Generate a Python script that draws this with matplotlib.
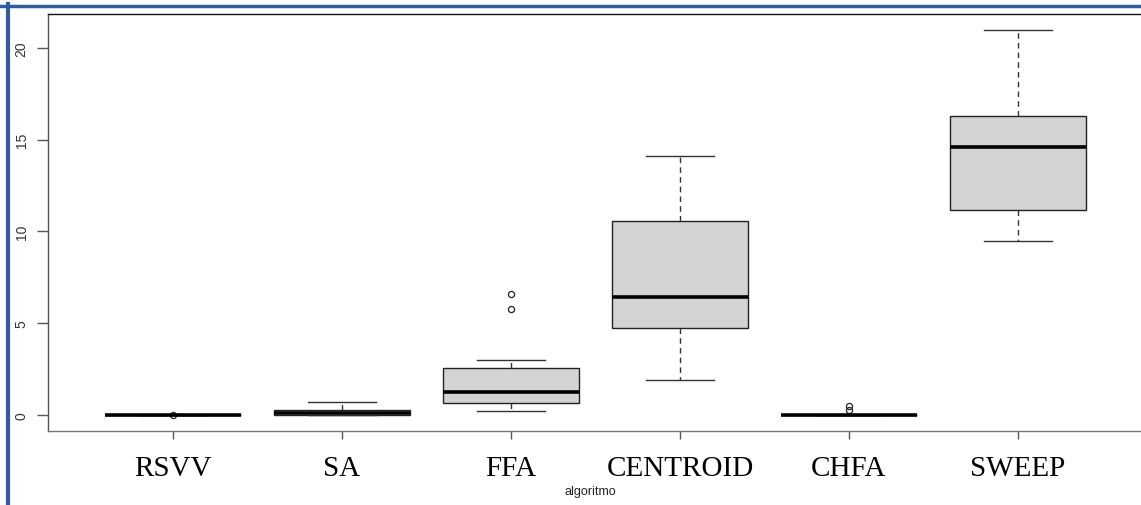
import matplotlib
matplotlib.use("Agg")
import matplotlib.pyplot as plt
from matplotlib.lines import Line2D

categories = ["RSVV", "SA", "FFA", "CENTROID", "CHFA", "SWEEP"]
whisker_low = [0.0, 0.0, 0.20, 1.89, 0.0, 9.50]
q1 = [0.0, 0.0, 0.64, 4.74, 0.0, 11.15]
median = [0.0, 0.12, 1.25, 6.43, 0.0, 14.62]
q3 = [0.0, 0.30, 2.54, 10.59, 0.0, 16.31]
whisker_high = [0.0, 0.69, 3.01, 14.10, 0.0, 20.98]
outliers = [[0.0], [], [5.79, 6.61], [], [0.27, 0.50], []]
yticks = [0, 5, 10, 15, 20]
xlabel = "algoritmo"

W, H = 1141, 506
fig = plt.figure(figsize=(W / 100, H / 100), dpi=100)
L, R, T, B = 48, 1143, 15, 432
ax = fig.add_axes([L / W, 1 - B / H, (R - L) / W, (B - T) / H])

stats = []
for i, c in enumerate(categories):
    stats.append(dict(label=c, whislo=whisker_low[i], q1=q1[i], med=median[i],
                      q3=q3[i], whishi=whisker_high[i], fliers=outliers[i]))

ax.bxp(stats, positions=range(1, len(categories) + 1), widths=0.8,
       capwidths=0.4, patch_artist=True, showfliers=True,
       boxprops=dict(facecolor="#d3d3d3", edgecolor="#222222", linewidth=1.0),
       medianprops=dict(color="black", linewidth=2.6, solid_capstyle="butt"),
       whiskerprops=dict(color="#333333", linewidth=1.0, linestyle=(0, (4, 3))),
       capprops=dict(color="#333333", linewidth=1.0),
       flierprops=dict(marker="o", markerfacecolor="none", markeredgecolor="#222222",
                       markersize=4.4, markeredgewidth=0.9, linestyle="none"))

ax.set_xlim(0.26, 6.74)
ax.set_ylim(-0.87, 21.85)
ax.set_yticks(yticks)
ax.set_yticklabels([str(v) for v in yticks], rotation=90, va="center",
                   fontsize=10, color="#333333", family="Liberation Sans")
ax.set_xticks(range(1, len(categories) + 1))
ax.set_xticklabels(categories, fontsize=21, family="Liberation Serif", color="black")
ax.tick_params(axis="y", length=8, width=1, color="#555555", pad=6)
ax.tick_params(axis="x", length=6, width=1, color="#555555", pad=11)
for s in ["left", "top", "bottom"]:
    ax.spines[s].set_linewidth(1.0)
ax.spines["left"].set_color("#555555")
ax.spines["bottom"].set_color("#777777")
ax.spines["top"].set_color("#111111")
ax.spines["right"].set_visible(False)

fig.text(590 / W, 1 - 492 / H, xlabel, fontsize=9, family="Liberation Sans",
         ha="center", va="center", color="#222222")

blue = "#2F5C9E"
fig.add_artist(Line2D([0, 1], [1 - 6.5 / H, 1 - 6.5 / H], color=blue, linewidth=2.5,
                      transform=fig.transFigure))
fig.add_artist(Line2D([8 / W, 8 / W], [0, 1 - 5 / H], color=blue, linewidth=3,
                      transform=fig.transFigure))

fig.savefig("out.png", dpi=100)
